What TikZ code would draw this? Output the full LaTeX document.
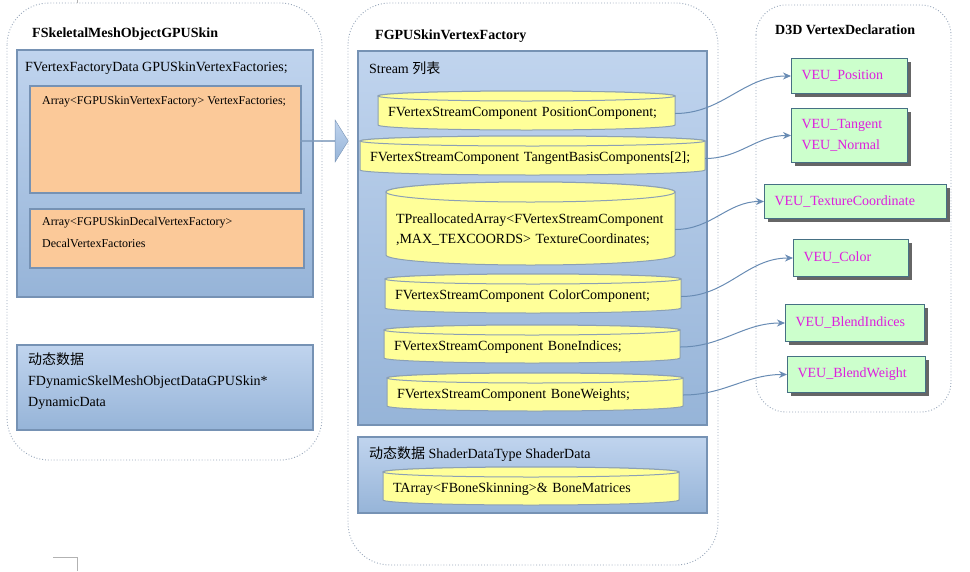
\documentclass[tikz,border=0pt]{standalone}
\usepackage{fontspec}
\setmainfont{Liberation Serif}
\newfontfamily\cjk{Noto Sans CJK SC}
\usetikzlibrary{shapes.arrows,shadows,arrows.meta}

\definecolor{boxtop}{RGB}{192,212,238}
\definecolor{boxbot}{RGB}{150,180,216}
\definecolor{boxline}{RGB}{118,146,180}
\definecolor{orangefill}{RGB}{251,201,153}
\definecolor{cylfill}{RGB}{255,255,153}
\definecolor{cylline}{RGB}{140,160,180}
\definecolor{veufill}{RGB}{204,255,204}
\definecolor{veuline}{RGB}{70,112,132}
\definecolor{veutext}{RGB}{222,30,222}
\definecolor{linkcol}{RGB}{105,140,180}
\definecolor{frame}{RGB}{150,165,185}

\begin{document}
\begin{tikzpicture}[x=1pt, y=-1pt,
  every node/.style={font=\fontsize{14}{20}\selectfont, inner sep=0pt},
  group/.style={draw=frame, dotted, line width=0.9pt, rounded corners=42pt},
  bluebox/.style={draw=boxline, line width=1.4pt, top color=boxtop, bottom color=boxbot},
  orangebox/.style={draw=boxline, line width=1.4pt, fill=orangefill},
  cyl/.style={draw=cylline, line width=1pt, fill=cylfill},
  cyltext/.style={align=left, inner xsep=10pt},
  veu/.style={draw=veuline, line width=1pt, fill=veufill, anchor=north west, text=veutext,
    align=left, inner xsep=10pt, font=\fontsize{14}{21}\selectfont,
    drop shadow={shadow xshift=3pt, shadow yshift=-3pt, fill=black!60, opacity=1}},
  link/.style={draw=linkcol, line width=1pt, -{Stealth[length=8pt,width=7pt]}},
  title/.style={font=\bfseries\fontsize{14}{16}\selectfont, anchor=west}]

\useasboundingbox (0,0) rectangle (970,571);

% outer groups
\draw[group] (7,3) rectangle (322,460);
\draw[group] (348,3) rectangle (718,565);
\draw[group, rounded corners=30pt] (756,5) rectangle (951,412);
\node[title] (skin) at (32,34) {FSkeletalMeshObjectGPUSkin};
\node[title] (factory) at (375,36) {FGPUSkinVertexFactory};
\node[title] (decl) at (775,30) {D3D VertexDeclaration};

% left column
\draw[bluebox] (17,50) rectangle (313,297);
\node[anchor=west] (vfdata) at (25,68) {FVertexFactoryData GPUSkinVertexFactories;};
\draw[orangebox] (30,86) rectangle (301,193);
\node[anchor=west, font=\fontsize{12}{14}\selectfont] (vfarr) at (42,102) {Array<FGPUSkinVertexFactory> VertexFactories;};
\draw[orangebox] (30,209) rectangle (304,268);
\node[anchor=north west, align=left, font=\fontsize{12}{22}\selectfont] (decalarr) at (42,217) {Array<FGPUSkinDecalVertexFactory>\\DecalVertexFactories};
\draw[bluebox] (17,345) rectangle (313,430);
\node[anchor=north west, align=left, font=\fontsize{14}{21}\selectfont] (dyn) at (28,352) {{\cjk 动态数据}\\FDynamicSkelMeshObjectDataGPUSkin*\\DynamicData};

\node[single arrow, minimum height=48pt, minimum width=42pt, single arrow head extend=12pt,
  single arrow tip angle=116, draw=boxline, top color=boxtop, bottom color=boxbot, anchor=west] (fwd) at (300,141) {};

% middle column
\draw[bluebox] (358,51) rectangle (707,425);
\node[anchor=west] (stream) at (369,68) {Stream {\cjk 列表}};
\draw[bluebox] (358,437) rectangle (707,513);
\node[anchor=west] (shader) at (369,454) {{\cjk 动态数据} ShaderDataType ShaderData};

\foreach \nm/\xa/\ya/\xb/\yb/\ry/\txt in {
  posc/378/91/675/130/5/{FVertexStreamComponent PositionComponent;},
  tanc/360/136/705/175/5/{FVertexStreamComponent TangentBasisComponents[2];},
  texc/386/182/675/265/10/{TPreallocatedArray<FVertexStreamComponent\\,MAX\_TEXCOORDS> TextureCoordinates;},
  colc/385/274/681/313/5/{FVertexStreamComponent ColorComponent;},
  idxc/384/325/680/363/5/{FVertexStreamComponent BoneIndices;},
  wgtc/387/373/683/411/5/{FVertexStreamComponent BoneWeights;},
  bonec/383/467/679/505/5/{TArray<FBoneSkinning>\& BoneMatrices}} {
  \pgfmathsetmacro\rx{(\xb-\xa)/2}
  \pgfmathsetmacro\tw{\xb-\xa-20}
  \draw[cyl] (\xa,\ya+\ry) -- (\xa,\yb-\ry) arc[start angle=180, end angle=0, x radius=\rx, y radius=\ry]
    -- (\xb,\ya+\ry) arc[start angle=0, end angle=-180, x radius=\rx, y radius=\ry] -- cycle;
  \draw[cyl] (\xa+\rx,\ya+\ry) ellipse[x radius=\rx, y radius=\ry];
  \node[cyltext, text width=\tw pt] (\nm) at ({(\xa+\xb)/2},{(\ya+\yb)/2+\ry*0.6}) {\txt};
}

% right column
\node[veu, minimum width=116pt, minimum height=35pt, text width=96pt] (veupos) at (791,58) {VEU\_Position};
\node[veu, minimum width=116pt, minimum height=54pt, text width=96pt] (veutan) at (791,108) {VEU\_Tangent\\VEU\_Normal};
\node[veu, minimum width=182pt, minimum height=34pt, text width=162pt] (veutex) at (764,184) {VEU\_TextureCoordinate};
\node[veu, minimum width=115pt, minimum height=37pt, text width=95pt] (veucol) at (793,239) {VEU\_Color};
\node[veu, minimum width=139pt, minimum height=37pt, text width=119pt] (veuidx) at (785,304) {VEU\_BlendIndices};
\node[veu, minimum width=138pt, minimum height=36pt, text width=118pt] (veuwgt) at (787,356) {VEU\_BlendWeight};

\foreach \a/\b in {posc/veupos, tanc/veutan, texc/veutex, colc/veucol, idxc/veuidx, wgtc/veuwgt}
  \draw[link] (\a.east) to[out=0, in=180] (\b.west);

% page marks
\draw[gray!60] (77,0) -- (77,3);
\draw[gray!60] (53,557) -- (77,557) -- (77,571);
\end{tikzpicture}
\end{document}
